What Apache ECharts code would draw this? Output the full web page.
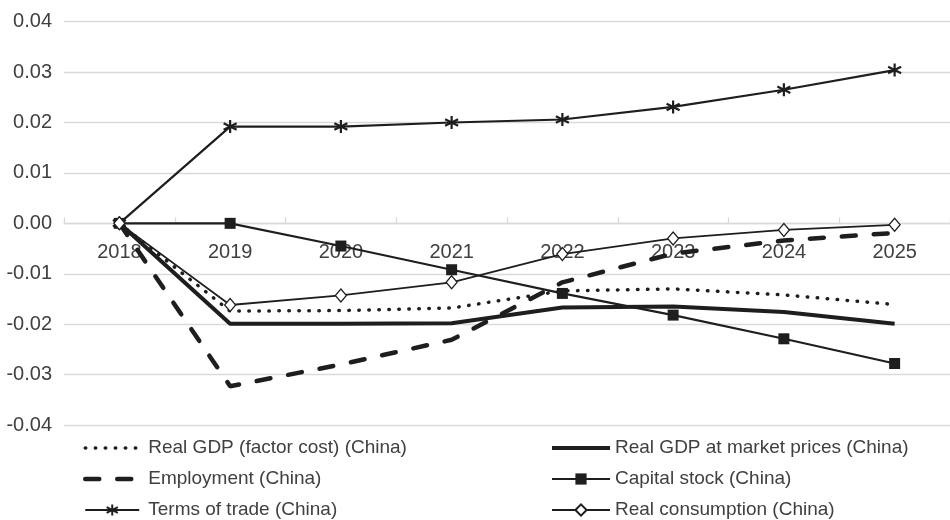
<!DOCTYPE html>
<html>
<head>
<meta charset="utf-8">
<script src="https://cdn.jsdelivr.net/npm/echarts@6/dist/echarts.min.js"></script>
<style>
  html, body { margin: 0; padding: 0; background: #fff; }
  #chart { width: 950px; height: 520px; }
</style>
</head>
<body>
<div id="chart"></div>
<script>
// years on the x axis
const years = ["2018", "2019", "2020", "2021", "2022", "2023", "2024", "2025"];

// series values
const gdpFactorCost = [0, -0.0174, -0.0173, -0.0168, -0.0134, -0.0130, -0.0142, -0.0161];
const gdpMarket = [0, -0.0199, -0.0199, -0.0198, -0.0167, -0.0165, -0.0176, -0.0199];
const employment = [0, -0.0323, -0.0280, -0.0231, -0.0117, -0.0060, -0.0034, -0.0019];
const capitalStock = [0, 0, -0.0045, -0.0092, -0.0139, -0.0182, -0.0229, -0.0278];
const termsOfTrade = [0, 0.0192, 0.0192, 0.0200, 0.0206, 0.0231, 0.0265, 0.0304];
const realConsumption = [0, -0.0162, -0.0143, -0.0117, -0.0061, -0.0030, -0.0013, -0.0003];

// y axis range
const yMin = -0.04, yMax = 0.04, yStep = 0.01;

const ink = "#1e1e1e";
const textColor = "#404040";
const font = "Liberation Sans";
const noFill = "rgba(0,0,0,0)";
// asterisk marker
const starPath = "path://M0,-6L0,6M-5.2,-3L5.2,3M-5.2,3L5.2,-3";

const gridTop = 21.7, gridBottom = 95, plotH = 520 - gridTop - gridBottom;
// x axis sits on the zero line
const zeroOffset = -plotH * (0 - yMin) / (yMax - yMin);

// line looks, shared by the series and their legend entries
const dotLine = { color: ink, width: 3.5, type: [0.5, 9.5], cap: "round" };
const thickLine = { color: ink, width: 4 };
const dashLine = { color: ink, width: 4.5, type: [14, 18], cap: "round" };
const thinLine = { color: ink, width: 2.2 };
const hairLine = { color: ink, width: 1.8 };

const chart = echarts.init(document.getElementById("chart"));

const legendText = { color: textColor, fontSize: 19, fontFamily: font, lineHeight: 21 };

const option = {
  animation: false,
  grid: { left: 64, width: 894, top: gridTop, bottom: gridBottom, containLabel: false },
  legend: [
    {
      orient: "vertical",
      left: 78,
      top: 432.5,
      height: 120,
      itemWidth: 54,
      itemHeight: 14,
      itemGap: 10,
      textStyle: Object.assign({ padding: [0, 0, 0, 4] }, legendText),
      data: [
        { name: "Real GDP (factor cost) (China)", lineStyle: dotLine },
        { name: "Employment (China)", lineStyle: dashLine },
        { name: "Terms of trade (China)", lineStyle: thinLine },
      ],
    },
    {
      orient: "vertical",
      left: 545,
      top: 432.5,
      height: 120,
      itemWidth: 58,
      itemHeight: 14,
      itemGap: 10,
      textStyle: legendText,
      data: [
        { name: "Real GDP at market prices (China)", lineStyle: thickLine },
        { name: "Capital stock (China)", lineStyle: thinLine },
        { name: "Real consumption (China)", lineStyle: thinLine },
      ],
    },
  ],
  xAxis: {
    type: "category",
    data: years,
    boundaryGap: true,
    offset: zeroOffset,
    axisLine: { onZero: false, lineStyle: { color: "#d9d9d9", width: 1.3 } },
    axisTick: { show: true, inside: true, length: 6, lineStyle: { color: "#d9d9d9", width: 1.3 } },
    axisLabel: { color: textColor, fontSize: 20, fontFamily: font, margin: 19 },
  },
  yAxis: {
    type: "value",
    min: yMin,
    max: yMax,
    interval: yStep,
    axisLine: { show: false },
    axisTick: { show: false },
    axisLabel: {
      color: textColor,
      fontSize: 20,
      fontFamily: font,
      margin: 12,
      formatter: (v) => v.toFixed(2),
    },
    splitLine: { lineStyle: { color: "#d9d9d9", width: 1.3 } },
  },
  series: [
    {
      name: "Real GDP (factor cost) (China)",
      type: "line",
      data: gdpFactorCost,
      symbol: "circle",
      showSymbol: false,
      lineStyle: dotLine,
      itemStyle: { color: noFill },
    },
    {
      name: "Real GDP at market prices (China)",
      type: "line",
      data: gdpMarket,
      symbol: "circle",
      showSymbol: false,
      lineStyle: thickLine,
      itemStyle: { color: noFill },
    },
    {
      name: "Employment (China)",
      type: "line",
      data: employment,
      symbol: "circle",
      showSymbol: false,
      lineStyle: dashLine,
      itemStyle: { color: noFill },
    },
    {
      name: "Capital stock (China)",
      type: "line",
      data: capitalStock,
      symbol: "rect",
      symbolSize: 11,
      lineStyle: thinLine,
      itemStyle: { color: ink },
    },
    {
      name: "Terms of trade (China)",
      type: "line",
      data: termsOfTrade,
      symbol: starPath,
      symbolSize: 13,
      lineStyle: thinLine,
      itemStyle: { color: ink, borderColor: ink, borderWidth: 2.2 },
    },
    {
      name: "Real consumption (China)",
      type: "line",
      data: realConsumption,
      symbol: "diamond",
      symbolSize: [11, 13],
      lineStyle: hairLine,
      itemStyle: { color: "#fff", borderColor: ink, borderWidth: 1.3 },
    },
  ],
};

chart.setOption(option);
</script>
</body>
</html>
